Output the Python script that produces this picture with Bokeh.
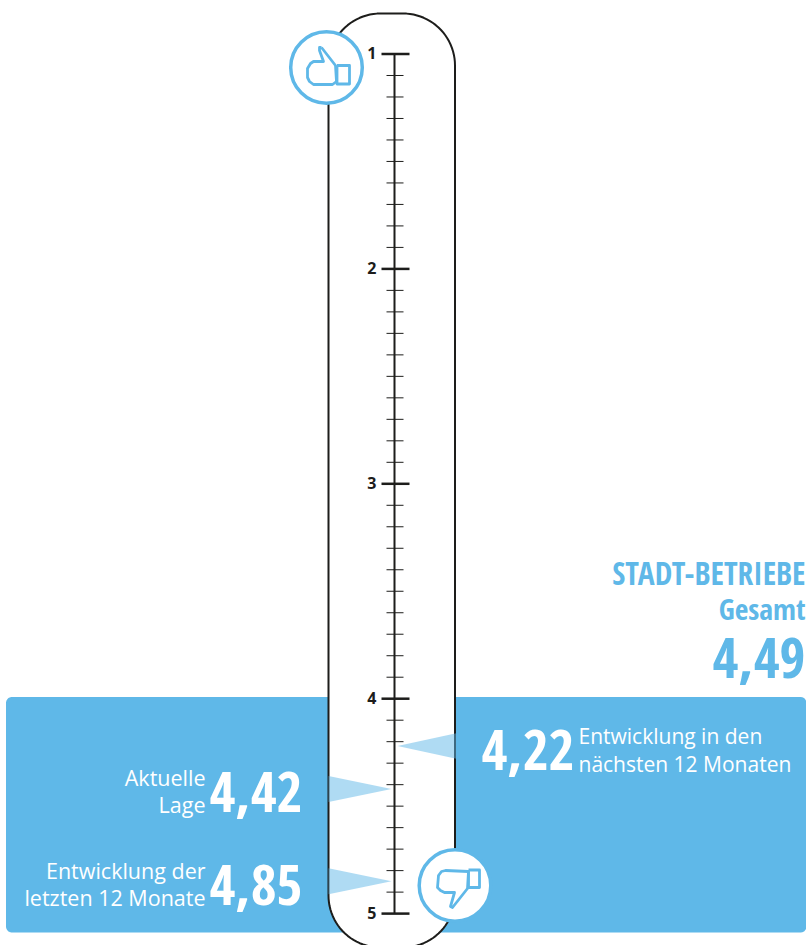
import numpy as np
from bokeh.core.properties import value
from bokeh.embed import file_html
from bokeh.models import Range1d
from bokeh.plotting import figure
from bokeh.resources import INLINE

# Survey results on the school-grade scale (1 = best, 5 = worst)
scale_labels = [1, 2, 3, 4, 5]
minor_steps = [round(1 + i * 0.1, 1) for i in range(41)]
total_title = "STADT-BETRIEBE"
total_subtitle = "Gesamt"
total_value = 4.49
current_label = ["Aktuelle", "Lage"]
current_value = 4.42
past_label = ["Entwicklung der", "letzten 12 Monate"]
past_value = 4.85
future_label = ["Entwicklung in den", "nächsten 12 Monaten"]
future_value = 4.22

BLUE = "#5fb8e8"
INK = "#1d1d1b"
WIDE = "Open Sans"
NARROW = "Open Sans Condensed"
W, H = 806, 945
TOP, UNIT = 53.5, 214.9

p = figure(width=W, height=H, output_backend="svg", toolbar_location=None,
           x_range=Range1d(0, W),
           y_range=Range1d(1 + (H - TOP) / UNIT, 1 - TOP / UNIT),
           x_axis_type=None, y_axis_type=None, min_border=0,
           outline_line_color=None, background_fill_color="white")
p.grid.visible = False
# Second vertical range in page pixels for the panel, capsule and icons
p.extra_y_ranges["px"] = Range1d(H, 0)


def rounded(x0, y0, x1, y1, r):
    t = np.linspace(0, np.pi / 2, 24)
    xs = np.concatenate([x1 - r + r * np.sin(t), x1 - r + r * np.cos(t),
                         x0 + r - r * np.sin(t), x0 + r - r * np.cos(t)])
    ys = np.concatenate([y0 + r - r * np.cos(t), y1 - r + r * np.sin(t),
                         y1 - r + r * np.cos(t), y0 + r - r * np.sin(t)])
    return xs, ys


# Blue panel behind the lower part of the thermometer
bx, by = rounded(5.5, 696.5, 806, 932, 6)
p.patch(bx, by, color=BLUE, line_width=0, y_range_name="px")

# Capsule
cx, cy = rounded(328, 13, 454.5, 947, 52)
p.patch(cx, cy, fill_color="white", line_color=INK, line_width=2, y_range_name="px")

# Scale
p.segment(394, 1, 394, 5, line_color=INK, line_width=2)
p.segment([386] * len(minor_steps), minor_steps, [403] * len(minor_steps), minor_steps,
          line_color=INK, line_width=1)
p.segment([381] * 5, scale_labels, [409] * 5, scale_labels, line_color=INK, line_width=2.5)
p.text([376] * 5, scale_labels, text=[str(v) for v in scale_labels], text_align="right",
       text_baseline="middle", text_font=value(WIDE), text_font_style="bold",
       text_font_size="16px", text_color=INK, y_offset=-1)

# Pointers: apex on the value, base on the capsule wall
HALF = 13 / UNIT
for v, base, tip in ((current_value, 328, 391), (past_value, 328, 391), (future_value, 457, 397)):
    p.patch([base, tip, base], [v - HALF, v, v + HALF], fill_color=BLUE, fill_alpha=0.5, line_width=0)

# Icon badges
for x, y in ((326, 67), (454.5, 885)):
    p.circle([x], [y], radius=35.8, radius_units="screen", fill_color="white",
             line_color=BLUE, line_width=3.5, y_range_name="px")

thumb_up = [(321, 47), (335, 65), (336, 81), (332, 84), (313, 84), (309, 81), (307, 77), (307, 68),
            (310, 63), (313, 61), (323, 61), (319, 50), (319, 47), (321, 47)]
thumb_down = [(468, 871), (445, 870), (441, 871), (438, 875), (437, 887), (440, 890), (444, 892),
              (454, 892), (450, 906), (452, 907), (467, 888), (468, 871)]
for outline, box in ((thumb_up, (336.5, 65, 349, 83.5)), (thumb_down, (468, 869.5, 479, 887))):
    xs, ys = zip(*outline)
    p.line(list(xs), list(ys), line_color=BLUE, line_width=2.8, line_join="round", y_range_name="px")
    x0, y0, x1, y1 = box
    p.line([x0, x1, x1, x0, x0], [y0, y0, y1, y1, y0], line_color=BLUE, line_width=2.8,
           line_join="round", y_range_name="px")


def label(x, y, txt, size, color="white", font=WIDE, style="normal", align="right"):
    # y is the visual baseline; the SVG text sits about 0.36 em below the requested position
    p.text([x], [y - 0.36 * size], text=[txt], text_align=align, text_baseline="alphabetic",
           text_font=value(font), text_font_style=style, text_font_size=f"{size}px",
           text_color=color, y_range_name="px")


def num(v):
    return f"{v:.2f}".replace(".", ",")


# Total block
label(805, 583, total_title, 31.5, BLUE, NARROW, "bold")
label(805, 619, total_subtitle, 29.5, BLUE, NARROW, "bold")
label(805, 678, num(total_value), 56, BLUE, NARROW, "bold")

# Readings on the panel
label(205, 785, current_label[0], 21.5)
label(205, 812, current_label[1], 21.5)
label(302, 812, num(current_value), 56, "white", NARROW, "bold")
label(205, 878, past_label[0], 21.5)
label(205, 905, past_label[1], 21.5)
label(302, 905, num(past_value), 56, "white", NARROW, "bold")
label(574, 770, num(future_value), 56, "white", NARROW, "bold")
label(578, 743, future_label[0], 21, align="left")
label(578, 771, future_label[1], 21, align="left")

open("out.html", "w").write(file_html(p, INLINE))
